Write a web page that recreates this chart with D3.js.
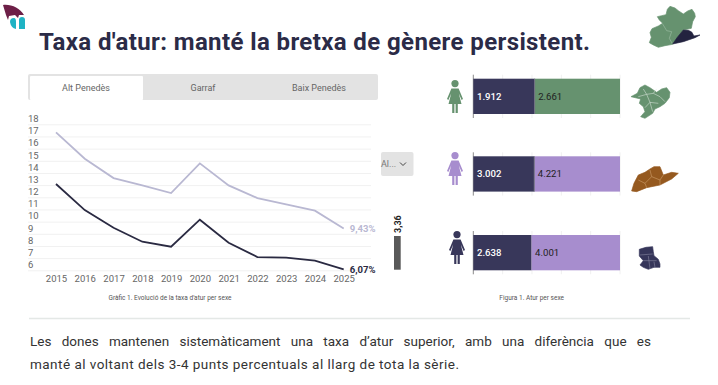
<!DOCTYPE html>
<html lang="ca"><head><meta charset="utf-8">
<script src="https://cdn.jsdelivr.net/npm/d3@7"></script>
<style>html,body{margin:0;padding:0;background:#fff;overflow:hidden}svg{display:block}text{font-family:Roboto,sans-serif}</style>
</head><body><svg id="c" width="718" height="385"></svg>
<script>
const years=[2015,2016,2017,2018,2019,2020,2021,2022,2023,2024,2025];
const dones=[17.34,15.17,13.58,12.98,12.35,14.79,12.98,11.94,11.42,10.9,9.43];
const homes=[13.09,10.95,9.5,8.35,7.94,10.16,8.27,7.09,7.04,6.79,6.07];
const yTicks=[6,7,8,9,10,11,12,13,14,15,16,17,18];
const tabs=["Alt Penedès","Garraf","Baix Penedès"];
const homesAtur=[1912,3002,2638];
const donesAtur=[2661,4221,4001];
const gap=[3.36];
const title="Taxa d'atur: manté la bretxa de gènere persistent.";
const body1="Les dones mantenen sistemàticament una taxa d’atur superior, amb una diferència que es";
const body2="manté al voltant dels 3-4 punts percentuals al llarg de tota la sèrie.";
const navy="#38375a", barColors=["#66926f","#a78dce","#a78dce"], iconColors=["#66926f","#a78dce","#38375a"], femColor="#b9b8d2", maleColor="#2a2a42";
const svg=d3.select("#c");
const fmt=d3.format(",");
const ca=n=>fmt(n).replace(",",".");

function fit(t,w,prop){const n=t.node().getComputedTextLength();const s=t.text();
  const k=prop==="word-spacing"?s.split(" ").length-1:s.length-1;t.style(prop,((w-n)/k)+"px");}

// logo
const logo=svg.append("g");
logo.append("path").attr("fill","#6d1f47").attr("d","M3,5 C11,4 20,8 24,15 L19,15 L18,18 L15,15 L9,16 L8,20 L6,15 Z");
logo.append("path").attr("fill","#1fb3c4").attr("d","M10,22 Q10,18 14,18 Q16,18 16,22 L16,29 Q11,28 10,22 Z");
logo.append("path").attr("fill","#1fb3c4").attr("d","M19,20 Q19,17 22,17 Q25,17 25,20 L25,29 L19,29 Z");

// title
fit(svg.append("text").attr("x",39).attr("y",49.5).attr("fill","#2b2b47")
  .style("font-family","Roboto,sans-serif").style("font-weight",700).style("font-size","24px").text(title),551,"letter-spacing");

// map helper: decorative silhouettes traced in zoomed-crop pixels
const closed=d3.line().curve(d3.curveLinearClosed);
function blob(tx,ty,pts,fill,veins,veinColor){
  const g=svg.append("g").attr("transform",`translate(${tx},${ty}) scale(.3333)`);
  g.append("path").attr("d",closed(pts)).attr("fill",fill).attr("stroke",fill).attr("stroke-width",2).attr("stroke-linejoin","round");
  if(veins) g.append("path").attr("d",veins).attr("fill","none").attr("stroke",veinColor).attr("stroke-width",1.6);
  return g;
}
blob(620,0,[[112,50],[125,47],[138,44],[142,28],[150,19],[165,24],[175,32],[190,42],[203,33],[216,28],[224,40],[226,50],[218,65],[214,85],[190,90],[175,110],[158,133],[135,137],[115,142],[100,135],[88,128],[94,112],[90,98],[96,86],[115,78],[128,70],[118,60]],
  "#66926f","M128,72 L140,92 L155,95 L148,115 L158,133","#a9c4ae");
blob(620,0,[[158,132],[172,112],[190,90],[205,91],[215,96],[222,108],[240,105],[225,113],[205,120],[190,125]],"#23233f");

// tabs
svg.append("rect").attr("x",28).attr("y",74).attr("width",350).attr("height",26).attr("rx",2).attr("fill","#e3e3e3");
svg.append("rect").attr("x",30).attr("y",76).attr("width",113).attr("height",24).attr("rx",1).attr("fill","#fff");
svg.selectAll(".tab").data(tabs).join("text").attr("class","tab")
  .attr("x",(d,i)=>[86,203,319][i]).attr("y",90.5).attr("text-anchor","middle").attr("font-size",9).attr("fill","#666").text(d=>d);

// line chart
const x=d3.scalePoint().domain(years).range([56,343.7]);
const y=d3.scaleLinear().domain([6,18]).range([270.3,124.3]);
const gy=svg.append("g").attr("transform","translate(28,0)").call(d3.axisLeft(y).tickValues(yTicks).tickSize(0));
gy.select(".domain").remove();
gy.selectAll("text").attr("x",0).attr("dy","-2.8px").attr("text-anchor","start").attr("font-size",9.5).attr("fill","#666").style("font-family","Roboto,sans-serif");
gy.selectAll("line").attr("x2",343).attr("stroke","#f1f1f1").attr("stroke-width",1);
const gx=svg.append("g").attr("transform","translate(0,270.3)").call(d3.axisBottom(x).tickFormat(d3.format("d")).tickSize(0));
gx.select(".domain").remove();
gx.selectAll("text").attr("y",5).attr("font-size",9.5).attr("fill","#666").style("font-family","Roboto,sans-serif");
const line=d3.line().x((d,i)=>x(years[i])).y(d=>y(d));
svg.append("path").datum(dones).attr("d",line).attr("fill","none").attr("stroke",femColor).attr("stroke-width",1.8);
svg.append("path").datum(homes).attr("d",line).attr("fill","none").attr("stroke",maleColor).attr("stroke-width",1.8);
const pct=v=>v.toFixed(2).replace(".",",")+"%";
svg.append("text").attr("x",349.7).attr("y",y(dones[10])+3.3).attr("font-size",9.5).attr("font-weight",700).attr("fill",femColor).text(pct(dones[10]));
svg.append("text").attr("x",349.7).attr("y",y(homes[10])+3.3).attr("font-size",9.5).attr("font-weight",700).attr("fill",maleColor).text(pct(homes[10]));
svg.append("text").attr("x",170).attr("y",300).attr("text-anchor","middle").attr("font-size",6.5).attr("fill","#555").text("Gràfic 1. Evolució de la taxa d'atur per sexe");

// dropdown
svg.append("rect").attr("x",381).attr("y",152).attr("width",32.5).attr("height",24).attr("rx",2).attr("fill","#e3e3e3");
svg.append("text").attr("x",381).attr("y",166.5).attr("font-size",9).attr("fill","#777").text("Al...");
svg.append("path").attr("d","M400,162.5 L403,165.5 L406,162.5").attr("fill","none").attr("stroke","#444").attr("stroke-width",1);

// gap bar
const gs=d3.scaleLinear().domain([0,3.36]).range([269.7,236]);
svg.selectAll(".gap").data(gap).join("rect").attr("class","gap").attr("x",394).attr("width",6.7)
  .attr("y",d=>gs(d)).attr("height",d=>gs(0)-gs(d)).attr("fill","#595959");
svg.selectAll(".gapl").data(gap).join("text").attr("class","gapl")
  .attr("transform",d=>`translate(400.5,${gs(d)-3}) rotate(-90)`).attr("font-size",9).attr("font-weight",700).attr("fill","#222")
  .text(d=>d.toFixed(2).replace(".",","));

// stacked bars
const bx=d3.scaleLinear().domain([0,1]).range([473.3,620]);
const rowTop=[78.7,156.3,235], barH=35.3;
homesAtur.forEach((h,i)=>{
  const d=donesAtur[i], share=h/(h+d), top=rowTop[i];
  const g=svg.append("g");
  bx.ticks(5).forEach(t=>g.append("line").attr("x1",bx(t)).attr("x2",bx(t)).attr("y1",top-4).attr("y2",top+barH+4)
    .attr("stroke",t===0?"#8a8a8a":"#f0f0f0"));
  g.append("rect").attr("x",bx(0)).attr("y",top).attr("width",bx(share)-bx(0)).attr("height",barH).attr("fill",navy);
  g.append("rect").attr("x",bx(share)).attr("y",top).attr("width",bx(1)-bx(share)).attr("height",barH).attr("fill",barColors[i]);
  if(i<2) g.append("line").attr("x1",bx(share)).attr("x2",bx(share)).attr("y1",top).attr("y2",top+barH).attr("stroke","#6f6f80");
  g.append("text").attr("x",bx(0)+3.7).attr("y",top+barH/2+3.3).attr("font-size",9.6).attr("font-weight",500).attr("fill","#fff").text(ca(h));
  g.append("text").attr("x",bx(share)+3.5).attr("y",top+barH/2+3.3).attr("font-size",9.6).attr("fill","#222").text(ca(d));
  // icon
  const ic=g.append("g").attr("transform",`translate(${[455,455,457][i]},${[80,152,231][i]})`).attr("fill",iconColors[i]);
  ic.append("circle").attr("cx",0).attr("cy",3.6).attr("r",3.6);
  ic.append("path").attr("d","M-3.6,8.5 L3.6,8.5 L8,19 L6.6,20 L3.8,13.5 L6.5,24 L2.8,24 L2.8,33 L.6,33 L.6,24 L-.6,24 L-.6,33 L-2.8,33 L-2.8,24 L-6.5,24 L-3.8,13.5 L-6.6,20 L-8,19 Z");
});
svg.append("text").attr("x",531.7).attr("y",300).attr("text-anchor","middle").attr("font-size",6.5).attr("fill","#555").text("Figura 1. Atur per sexe");

// small maps
blob(430,65,[[603,95],[622,85],[630,68],[645,60],[660,68],[680,82],[695,72],[710,68],[720,82],[718,98],[705,115],[690,125],[675,132],[668,145],[645,160],[632,155],[645,140],[640,125],[628,115],[632,102]],
  "#66926f","M625,95 L650,88 L670,85 L690,95 L705,110 M650,88 L660,112 L645,128 M660,112 L685,115 M670,85 L680,72 M660,112 L668,140 M640,72 L650,88","#dfe9e1");
blob(430,65,[[605,378],[612,355],[625,330],[645,322],[660,312],[672,305],[690,305],[700,330],[725,322],[745,325],[725,342],[690,360],[650,368],[620,380]],
  "#95591f","M625,345 L645,355 L650,368 M645,355 L665,335 L690,345 L690,360 M665,335 L660,315 M690,345 L700,330","#d6a876");
blob(430,190,[[628,178],[648,172],[668,170],[670,185],[672,197],[685,208],[690,222],[690,232],[672,232],[655,238],[640,232],[630,225],[640,212],[628,198]],
  "#36365a","M630,195 L668,192 M640,212 L680,212 M655,198 L660,236 M672,215 L675,232","#8f8fa8");

// body
svg.append("line").attr("x1",29).attr("x2",690).attr("y1",318.5).attr("y2",318.5).attr("stroke","#e4e8e6").attr("stroke-width",1.6);
const bt=(s,yy)=>svg.append("text").attr("x",30).attr("y",yy).attr("fill","#333").style("font-family","Roboto,sans-serif").style("font-size","13.5px").text(s);
fit(bt(body1,346),621,"word-spacing");
fit(bt(body2,369),429,"letter-spacing");
</script></body></html>
